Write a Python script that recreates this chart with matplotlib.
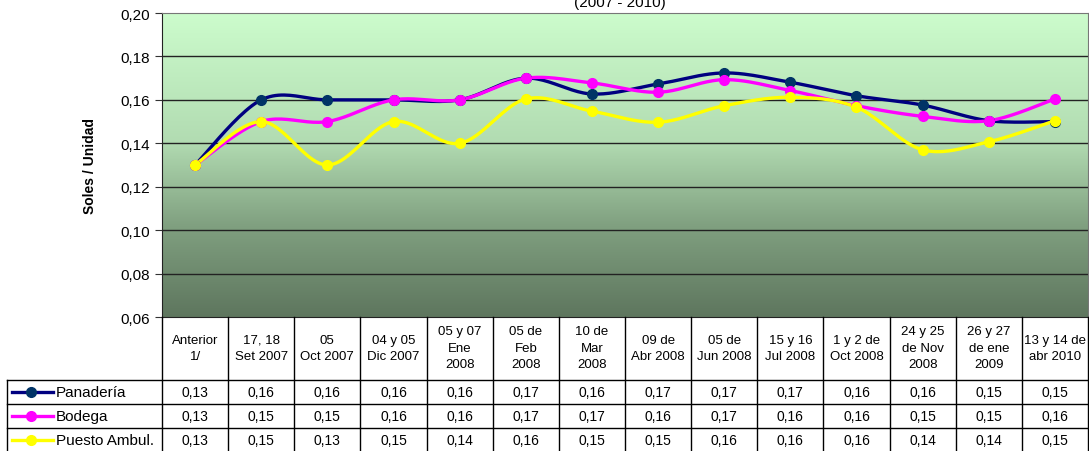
import numpy as np
import matplotlib
matplotlib.use("Agg")
import matplotlib.pyplot as plt
from matplotlib.colors import LinearSegmentedColormap

plt.rcParams['font.family'] = ['Liberation Sans', 'DejaVu Sans']

categorias = ["Anterior\n1/", "17, 18\nSet 2007", "05\nOct 2007", "04 y 05\nDic 2007",
              "05 y 07\nEne\n2008", "05 de\nFeb\n2008", "10 de\nMar\n2008", "09 de\nAbr 2008",
              "05 de\nJun 2008", "15 y 16\nJul 2008", "1 y 2 de\nOct 2008", "24 y 25\nde Nov\n2008",
              "26 y 27\nde ene\n2009", "13 y 14 de\nabr 2010"]
panaderia = [0.130, 0.160, 0.160, 0.160, 0.160, 0.170, 0.1627, 0.1673, 0.1724, 0.1681, 0.1619, 0.1576, 0.1504, 0.150]
bodega = [0.130, 0.150, 0.150, 0.160, 0.160, 0.170, 0.1678, 0.1635, 0.1693, 0.1643, 0.1573, 0.1524, 0.1504, 0.1604]
puesto = [0.130, 0.150, 0.130, 0.150, 0.140, 0.1604, 0.1548, 0.1497, 0.1573, 0.1612, 0.1566, 0.137, 0.1407, 0.1504]
series = [("Panadería", panaderia, "#000080", "#003366"),
          ("Bodega", bodega, "#FF00FF", "#FF00FF"),
          ("Puesto Ambul.", puesto, "#FFFF00", "#FFFF00")]
yticks = [0.06, 0.08, 0.10, 0.12, 0.14, 0.16, 0.18, 0.20]


def smooth(x, y, n=24):
    # excel-like bezier smoothing
    pts = np.column_stack([x, y]).astype(float)
    out = []
    for i in range(len(pts) - 1):
        p0 = pts[max(i - 1, 0)]
        p1 = pts[i]
        p2 = pts[i + 1]
        p3 = pts[min(i + 2, len(pts) - 1)]
        c1 = p1 + (p2 - p0) / 6.0
        c2 = p2 - (p3 - p1) / 6.0
        t = np.linspace(0, 1, n)[:, None]
        seg = (1 - t)**3 * p1 + 3 * (1 - t)**2 * t * c1 + 3 * (1 - t) * t**2 * c2 + t**3 * p2
        out.append(seg if i == 0 else seg[1:])
    out = np.vstack(out)
    return out[:, 0], out[:, 1]


W, H = 1089, 452
fig = plt.figure(figsize=(W / 100, H / 100), dpi=100)
left, right, top, bottom = 162, 1088, 14, 318
ax = fig.add_axes([left / W, 1 - bottom / H, (right - left) / W, (bottom - top) / H])

n = len(categorias)
x = np.arange(n)
ax.set_xlim(-0.5, n - 0.5)
ax.set_ylim(0.06, 0.20)

# background gradient
cmap = LinearSegmentedColormap.from_list("g", [(0.0, (94/255, 118/255, 94/255)),
                                               (0.30, (128/255, 160/255, 128/255)),
                                               (0.58, (178/255, 220/255, 178/255)),
                                               (1.0, (204/255, 252/255, 204/255))])
grad = np.linspace(0, 1, 256)[:, None]
ax.imshow(grad, cmap=cmap, origin='lower', aspect='auto',
          extent=[-0.5, n - 0.5, 0.06, 0.20], zorder=0)

for yv in yticks[1:-1]:
    ax.axhline(yv, color='#222222', lw=1.0, zorder=1)

for name, vals, lc, mc in series:
    sx, sy = smooth(x, vals)
    ax.plot(sx, sy, color=lc, lw=2.4, zorder=3, solid_capstyle='round')
    ax.plot(x, vals, 'o', color=mc, ms=7, zorder=4, mec=mc)

ax.set_yticks(yticks)
ax.set_yticklabels([f"{v:.2f}".replace('.', ',') for v in yticks], fontsize=11)
ax.set_xticks([])
ax.tick_params(axis='y', length=5, color='#333333')
for s in ['top', 'right']:
    ax.spines[s].set_color('#777777')
ax.spines['left'].set_color('#222222')
ax.spines['bottom'].set_color('#222222')
ax.set_ylabel("Soles / Unidad", fontsize=10, fontweight='bold', labelpad=17)

fig.text(620 / W, 1 - 3 / H, "(2007 - 2010)", ha='center', va='center', fontsize=11)

# data table
tab = fig.add_axes([left / W, 0, (right - left) / W, (H - bottom) / H])
tab.set_xlim(-0.5, n - 0.5)
tab.set_ylim(H, bottom)
tab.axis('off')
row_top = [381, 405, 429]
row_h = 23.5
leg_left = -0.5 - (left - 7) / ((right - left) / n)

for i in range(n + 1):
    tab.plot([i - 0.5, i - 0.5], [bottom, H], color='black', lw=1, clip_on=False)
for yy in row_top:
    tab.plot([leg_left, n - 0.5], [yy, yy], color='black', lw=1, clip_on=False)
tab.plot([leg_left, leg_left], [row_top[0], H], color='black', lw=1, clip_on=False)

for i, lab in enumerate(categorias):
    tab.text(i, 349, lab, ha='center', va='center', fontsize=9.5, linespacing=1.5)

for r, (name, vals, lc, mc) in enumerate(series):
    yc = row_top[r] + row_h / 2
    tab.plot([leg_left + 0.08, leg_left + 0.7], [yc, yc], color=lc, lw=2.4, clip_on=False)
    tab.plot([leg_left + 0.36], [yc], 'o', color=mc, ms=7, clip_on=False)
    tab.text(leg_left + 0.74, yc, name, ha='left', va='center', fontsize=11)
    for i, v in enumerate(vals):
        tab.text(i, yc, f"{v:.2f}".replace('.', ','), ha='center', va='center', fontsize=10)

fig.savefig("out.png", dpi=100)
